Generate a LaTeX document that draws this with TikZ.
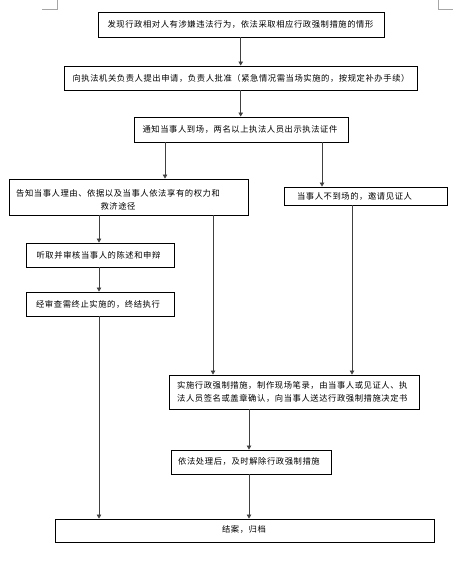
\documentclass[tikz,border=0pt]{standalone}
\usepackage{fontspec}
\newfontfamily\cjk[LetterSpace=7]{Noto Sans CJK SC}
\usetikzlibrary{arrows.meta}
\begin{document}
\begin{tikzpicture}[x=1pt,y=-1pt,
  box/.style={draw=black,line width=0.9pt,inner sep=0pt},
  txt/.style={font=\cjk\fontsize{8.3}{13}\selectfont,inner sep=0pt,text=black},
  arr/.style={draw=black!75,line width=0.8pt,-{Triangle[length=4pt,width=4.5pt]}},
  cornermark/.style={draw=black!35,line width=0.8pt}]
\useasboundingbox (0,0) rectangle (465,583);
\fill[white] (0,0) rectangle (465,583);
% page corner marks
\draw[cornermark] (42,9) -- (57,9) -- (57,0);
\draw[cornermark] (438,0) -- (438,9) -- (453,9);
% boxes
\node[box,minimum width=286pt,minimum height=25pt] (b1) at (241,24.5) {};
\node[box,minimum width=353pt,minimum height=24pt] (b2) at (240.5,78) {};
\node[box,minimum width=214pt,minimum height=25pt] (b3) at (241,129.5) {};
\node[box,minimum width=239pt,minimum height=36pt] (b4) at (128.5,197) {};
\node[box,minimum width=163pt,minimum height=18pt] (b5) at (365.5,196) {};
\node[box,minimum width=148pt,minimum height=24pt] (b6) at (100,255) {};
\node[box,minimum width=148pt,minimum height=24pt] (b7) at (100,304) {};
\node[box,minimum width=250pt,minimum height=34pt] (b8) at (294,392) {};
\node[box,minimum width=160pt,minimum height=24pt] (b9) at (251,462) {};
\node[box,minimum width=379pt,minimum height=23pt] (b10) at (244.5,530.5) {};
% texts
\node[txt] (t1) at (240.5,24.5) {发现行政相对人有涉嫌违法行为，依法采取相应行政强制措施的情形};
\node[txt] (t2) at (241,78) {向执法机关负责人提出申请，负责人批准（紧急情况需当场实施的，按规定补办手续）};
\node[txt] (t3) at (240,129.5) {通知当事人到场，两名以上执法人员出示执法证件};
\node[txt,align=center] (t4) at (118,199.5) {告知当事人理由、依据以及当事人依法享有的权力和\\救济途径};
\node[txt] (t5) at (354.5,196) {当事人不到场的，邀请见证人};
\node[txt] (t6) at (98.5,255) {听取并审核当事人的陈述和申辩};
\node[txt] (t7) at (98,304) {经审查需终止实施的，终结执行};
\node[txt,align=left,anchor=west] (t8) at (177,391.5) {实施行政强制措施，制作现场笔录，由当事人或见证人、执\\法人员签名或盖章确认，向当事人送达行政强制措施决定书};
\node[txt] (t9) at (249,461) {依法处理后，及时解除行政强制措施};
\node[txt] (t10) at (244,529) {结案，归档};
% connector columns
\coordinate (xa) at (240.7,0);
\coordinate (xc) at (165,0);
\coordinate (xd) at (322,0);
\coordinate (xe) at (99,0);
\coordinate (xf) at (213,0);
\coordinate (xg) at (352,0);
\coordinate (xh) at (249,0);
% connectors
\draw[arr] (b1.south -| xa) -- (b2.north -| xa);
\draw[arr] (b2.south -| xa) -- (b3.north -| xa);
\draw[arr] (b3.south -| xc) -- (b4.north -| xc);
\draw[arr] (b3.south -| xd) -- (b5.north -| xd);
\draw[arr] (b4.south -| xe) -- (b6.north -| xe);
\draw[arr] (b6.south -| xe) -- (b7.north -| xe);
\draw[arr] (b7.south -| xe) -- (b10.north -| xe);
\draw[arr] (b4.south -| xf) -- (b8.north -| xf);
\draw[arr] (b5.south -| xg) -- (b8.north -| xg);
\draw[arr] (b8.south -| xh) -- (b9.north -| xh);
\draw[arr] (b9.south -| xh) -- (b10.north -| xh);
\end{tikzpicture}
\end{document}
